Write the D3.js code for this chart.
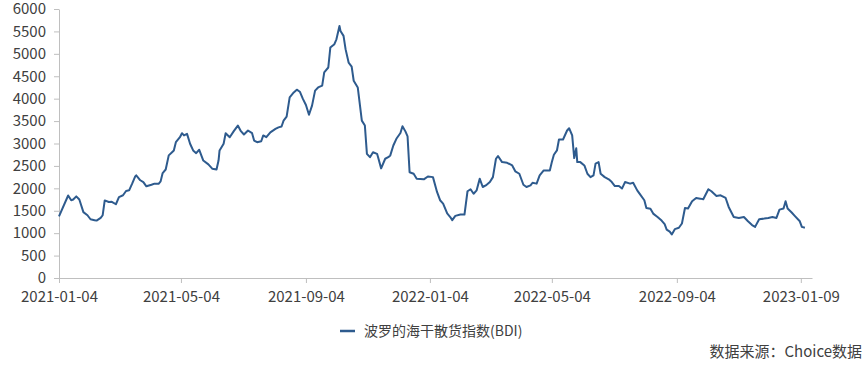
<!DOCTYPE html>
<html>
<head>
<meta charset="utf-8">
<script src="https://d3js.org/d3.v7.min.js"></script>
<style>
  body { margin: 0; background: #fff; }
  text { font-family: "Noto Sans CJK SC", "Noto Sans", sans-serif; fill: #404040; }
</style>
</head>
<body>
<div id="chart"></div>
<script>

// BDI daily series
var dates = [
  "2021-01-04","2021-01-13","2021-01-16","2021-01-18","2021-01-21","2021-01-24","2021-01-28","2021-02-01",
  "2021-02-04","2021-02-08","2021-02-10","2021-02-14","2021-02-16","2021-02-18","2021-02-22","2021-02-25",
  "2021-03-01","2021-03-04","2021-03-08","2021-03-11","2021-03-14","2021-03-17","2021-03-20","2021-03-21",
  "2021-03-25","2021-03-28","2021-03-31","2021-04-05","2021-04-08","2021-04-12","2021-04-14","2021-04-16",
  "2021-04-19","2021-04-22","2021-04-25","2021-04-27","2021-04-29","2021-05-03","2021-05-05","2021-05-07",
  "2021-05-10","2021-05-13","2021-05-16","2021-05-19","2021-05-22","2021-05-26","2021-05-31","2021-06-04",
  "2021-06-08","2021-06-10","2021-06-11","2021-06-15","2021-06-17","2021-06-21","2021-06-25","2021-06-29",
  "2021-07-02","2021-07-05","2021-07-09","2021-07-13","2021-07-15","2021-07-18","2021-07-22","2021-07-24",
  "2021-07-27","2021-07-31","2021-08-05","2021-08-08","2021-08-11","2021-08-13","2021-08-16","2021-08-19",
  "2021-08-23","2021-08-26","2021-08-29","2021-09-01","2021-09-04","2021-09-07","2021-09-10","2021-09-13",
  "2021-09-16","2021-09-20","2021-09-22","2021-09-26","2021-09-28","2021-10-02","2021-10-04","2021-10-07",
  "2021-10-08","2021-10-11","2021-10-13","2021-10-16","2021-10-19","2021-10-21","2021-10-25","2021-10-29",
  "2021-11-01","2021-11-03","2021-11-06","2021-11-09","2021-11-13","2021-11-14","2021-11-17","2021-11-21",
  "2021-11-24","2021-11-26","2021-11-29","2021-12-02","2021-12-06","2021-12-08","2021-12-11","2021-12-13",
  "2021-12-15","2021-12-19","2021-12-22","2021-12-29","2022-01-02","2022-01-07","2022-01-11","2022-01-14",
  "2022-01-17","2022-01-21","2022-01-24","2022-01-26","2022-01-29","2022-02-03","2022-02-07","2022-02-10",
  "2022-02-13","2022-02-16","2022-02-19","2022-02-22","2022-02-25","2022-02-28","2022-03-04","2022-03-07",
  "2022-03-10","2022-03-12","2022-03-16","2022-03-21","2022-03-26","2022-03-29","2022-04-02","2022-04-06",
  "2022-04-09","2022-04-13","2022-04-15","2022-04-19","2022-04-22","2022-04-26","2022-05-02","2022-05-04",
  "2022-05-06","2022-05-09","2022-05-11","2022-05-15","2022-05-19","2022-05-21","2022-05-24","2022-05-26",
  "2022-05-28","2022-05-29","2022-06-01","2022-06-05","2022-06-08","2022-06-11","2022-06-14","2022-06-16",
  "2022-06-19","2022-06-21","2022-06-25","2022-06-29","2022-07-02","2022-07-05","2022-07-09","2022-07-12",
  "2022-07-15","2022-07-20","2022-07-23","2022-07-27","2022-07-30","2022-08-03","2022-08-05","2022-08-09",
  "2022-08-12","2022-08-16","2022-08-20","2022-08-23","2022-08-25","2022-08-28","2022-08-30","2022-09-02",
  "2022-09-06","2022-09-09","2022-09-12","2022-09-15","2022-09-19","2022-09-23","2022-09-27","2022-09-30",
  "2022-10-05","2022-10-08","2022-10-13","2022-10-17","2022-10-22","2022-10-25","2022-10-30","2022-11-04",
  "2022-11-09","2022-11-13","2022-11-17","2022-11-20","2022-11-24","2022-11-29","2022-12-03","2022-12-07",
  "2022-12-11","2022-12-14","2022-12-18","2022-12-20","2022-12-22","2022-12-26","2022-12-29","2023-01-03",
  "2023-01-05","2023-01-08"
];

var bdi = [
  1374,1840,1735,1750,1820,1750,1470,1400,
  1310,1290,1280,1340,1400,1730,1695,1700,
  1645,1805,1845,1940,1955,2105,2265,2290,
  2180,2140,2045,2080,2105,2100,2155,2340,
  2420,2735,2800,2845,3030,3140,3230,3180,
  3215,2995,2845,2785,2860,2620,2535,2435,
  2420,2620,2845,2995,3230,3140,3275,3400,
  3275,3200,3290,3230,3065,3030,3050,3180,
  3140,3250,3325,3360,3380,3510,3600,4030,
  4140,4200,4155,3995,3860,3640,3845,4180,
  4250,4290,4585,4695,5140,5215,5325,5620,
  5510,5400,5105,4805,4715,4400,4250,3510,
  3400,2770,2695,2805,2770,2695,2445,2660,
  2695,2735,2955,3105,3235,3385,3265,3160,
  2360,2325,2215,2200,2265,2250,1920,1735,
  1660,1440,1360,1290,1385,1415,1415,1935,
  1980,1880,1955,2215,2030,2065,2140,2250,
  2660,2720,2585,2570,2510,2380,2325,2080,
  2030,2065,2125,2105,2290,2400,2400,2585,
  2750,2845,3090,3090,3290,3340,3180,2675,
  2895,2585,2585,2510,2325,2250,2290,2550,
  2585,2325,2250,2200,2140,2050,2050,1995,
  2140,2105,2125,1955,1860,1735,1560,1545,
  1430,1360,1280,1200,1080,1035,970,1090,
  1120,1215,1560,1550,1710,1785,1770,1755,
  1980,1935,1830,1845,1785,1585,1360,1340,
  1360,1265,1180,1140,1310,1325,1340,1360,
  1340,1525,1550,1710,1550,1460,1385,1265,
  1140,1120
];

var yTicks = [0,500,1000,1500,2000,2500,3000,3500,4000,4500,5000,5500,6000];
var xTickDates = ["2021-01-04","2021-05-04","2021-09-04","2022-01-04","2022-05-04","2022-09-04","2023-01-04"];
var xTickLabels = ["2021-01-04","2021-05-04","2021-09-04","2022-01-04","2022-05-04","2022-09-04","2023-01-09"];
var seriesName = "波罗的海干散货指数(BDI)";
var sourceNote = "数据来源：Choice数据";

var width = 865, height = 369;
var parse = d3.timeParse("%Y-%m-%d");

var data = dates.map(function(d, i) { return {date: parse(d), value: bdi[i]}; });

var svg = d3.select("#chart")
  .append("svg")
    .attr("width", width)
    .attr("height", height);

var x = d3.scaleTime()
  .domain([parse("2021-01-04"), parse("2023-01-15")])
  .range([59, 812]);

var y = d3.scaleLinear()
  .domain([0, 6000])
  .range([278, 9]);

// y axis
var yAxis = svg.append("g")
  .attr("transform", "translate(59,0)")
  .call(d3.axisLeft(y).tickValues(yTicks).tickFormat(d3.format("d"))
    .tickSize(5).tickPadding(8).tickSizeOuter(0));
yAxis.select(".domain").attr("stroke", "#bfbfbf");
yAxis.selectAll(".tick line").attr("stroke", "#bfbfbf");
yAxis.selectAll("text").style("font-size", "15px").attr("fill", "#404040");

// x axis
var xAxis = svg.append("g")
  .attr("transform", "translate(0,278)")
  .call(d3.axisBottom(x)
    .tickValues(xTickDates.map(parse))
    .tickFormat(function(d, i) { return xTickLabels[i]; })
    .tickSize(5).tickPadding(8).tickSizeOuter(0));
xAxis.select(".domain").attr("stroke", "#bfbfbf");
xAxis.selectAll(".tick line").attr("stroke", "#bfbfbf");
xAxis.selectAll("text").style("font-size", "15px").attr("fill", "#404040");

// the series
var line = d3.line()
  .x(function(d) { return x(d.date); })
  .y(function(d) { return y(d.value); });

svg.append("path")
  .datum(data)
  .attr("fill", "none")
  .attr("stroke", "#2e5b8e")
  .attr("stroke-width", 2)
  .attr("stroke-linejoin", "round")
  .attr("d", line);

// legend
svg.append("line")
  .attr("x1", 340).attr("x2", 355)
  .attr("y1", 331).attr("y2", 331)
  .attr("stroke", "#2e5b8e")
  .attr("stroke-width", 2.5);
svg.append("text")
  .attr("x", 364)
  .attr("y", 336)
  .style("font-size", "14px")
  .text(seriesName);

// source
svg.append("text")
  .attr("x", 862)
  .attr("y", 357)
  .attr("text-anchor", "end")
  .style("font-size", "15px")
  .text(sourceNote);

</script>
</body>
</html>
